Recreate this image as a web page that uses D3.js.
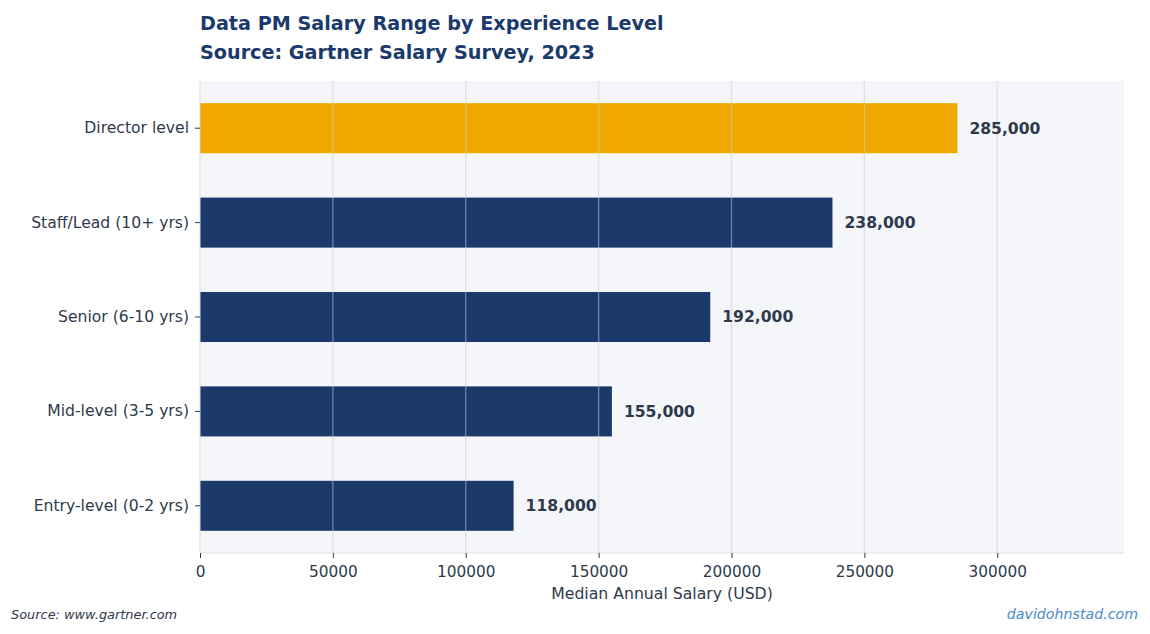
<!DOCTYPE html>
<html>
<head>
<meta charset="utf-8">
<script src="https://cdn.jsdelivr.net/npm/d3@7"></script>
<style>
  body { margin: 0; background: #fff; }
  svg { display: block; font-family: "DejaVu Sans", sans-serif; }
</style>
</head>
<body>
<div id="chart"></div>
<script>
// top-to-bottom order as drawn
const levels = ["Director level", "Staff/Lead (10+ yrs)", "Senior (6-10 yrs)", "Mid-level (3-5 yrs)", "Entry-level (0-2 yrs)"];
const salaries = [285000, 238000, 192000, 155000, 118000];
const xTicks = [0, 50000, 100000, 150000, 200000, 250000, 300000];

const width = 1150, height = 634;
const margin = { top: 81, right: 26, bottom: 81, left: 200 };

const navy = "#1b3a6b", orange = "#f0a900", textCol = "#2e3a4b";

const data = levels.map((level, i) => ({ level, salary: salaries[i] }));

const svg = d3.select("#chart").append("svg")
  .attr("width", width).attr("height", height);

const x = d3.scaleLinear()
  .domain([0, d3.max(salaries) * 1.22])
  .range([margin.left, width - margin.right]);

const y = d3.scaleBand()
  .domain(levels)
  .range([margin.top, height - margin.bottom])
  .paddingInner(0.47)
  .paddingOuter(0.235);

// plot background
svg.append("rect")
  .attr("x", margin.left).attr("y", margin.top)
  .attr("width", width - margin.right - margin.left)
  .attr("height", height - margin.bottom - margin.top)
  .attr("fill", "#f4f6fa");

// bars
svg.append("g")
  .selectAll("rect")
  .data(data)
  .join("rect")
  .attr("x", x(0))
  .attr("y", d => y(d.level))
  .attr("width", d => x(d.salary) - x(0))
  .attr("height", y.bandwidth())
  .attr("fill", (d, i) => i === 0 ? orange : navy);

// vertical grid on top of bars
svg.append("g")
  .selectAll("line")
  .data(xTicks.slice(1))
  .join("line")
  .attr("x1", d => x(d)).attr("x2", d => x(d))
  .attr("y1", margin.top).attr("y2", height - margin.bottom)
  .attr("stroke", "#c8cdd6").attr("stroke-opacity", 0.5).attr("stroke-width", 1.3);

// spines
svg.append("line")
  .attr("x1", margin.left).attr("x2", margin.left)
  .attr("y1", margin.top).attr("y2", height - margin.bottom)
  .attr("stroke", "#d9dce1");
svg.append("line")
  .attr("x1", margin.left).attr("x2", width - margin.right)
  .attr("y1", height - margin.bottom).attr("y2", height - margin.bottom)
  .attr("stroke", "#d9dce1");

// x axis
const xAxis = svg.append("g")
  .attr("transform", `translate(0,${height - margin.bottom})`)
  .call(d3.axisBottom(x).tickValues(xTicks).tickFormat(d3.format("d")).tickSize(5).tickPadding(8));
xAxis.select(".domain").remove();
xAxis.selectAll("line").attr("stroke", textCol);
xAxis.selectAll("text").attr("fill", textCol).style("font-size", "15.3px").style("font-family", "DejaVu Sans");

// y axis
const yAxis = svg.append("g")
  .attr("transform", `translate(${margin.left},0)`)
  .call(d3.axisLeft(y).tickSize(5).tickPadding(6));
yAxis.select(".domain").remove();
yAxis.selectAll("line").attr("stroke", textCol);
yAxis.selectAll("text").attr("fill", textCol).style("font-size", "15.6px").style("font-family", "DejaVu Sans");

// value labels
svg.append("g")
  .selectAll("text")
  .data(data)
  .join("text")
  .attr("x", d => x(d.salary) + 12)
  .attr("y", d => y(d.level) + y.bandwidth() / 2)
  .attr("dy", "0.35em")
  .attr("fill", textCol)
  .style("font-size", "15.6px").style("font-weight", "bold")
  .text(d => d3.format(",")(d.salary));

// x axis label
svg.append("text")
  .attr("x", (margin.left + width - margin.right) / 2).attr("y", 599)
  .attr("text-anchor", "middle").attr("fill", textCol)
  .style("font-size", "15.7px")
  .text("Median Annual Salary (USD)");

// titles
svg.append("text")
  .attr("x", margin.left).attr("y", 30)
  .attr("fill", navy).style("font-size", "19.2px").style("font-weight", "bold")
  .text("Data PM Salary Range by Experience Level");
svg.append("text")
  .attr("x", margin.left).attr("y", 59)
  .attr("fill", navy).style("font-size", "19.2px").style("font-weight", "bold")
  .text("Source: Gartner Salary Survey, 2023");

// footers
svg.append("text")
  .attr("x", 11).attr("y", 619)
  .attr("fill", textCol).style("font-size", "12.9px").style("font-style", "italic")
  .text("Source: www.gartner.com");
svg.append("text")
  .attr("x", 1138).attr("y", 619)
  .attr("text-anchor", "end")
  .attr("fill", "#4a8ac9").style("font-size", "14.2px").style("font-style", "italic")
  .text("davidohnstad.com");
</script>
</body>
</html>
